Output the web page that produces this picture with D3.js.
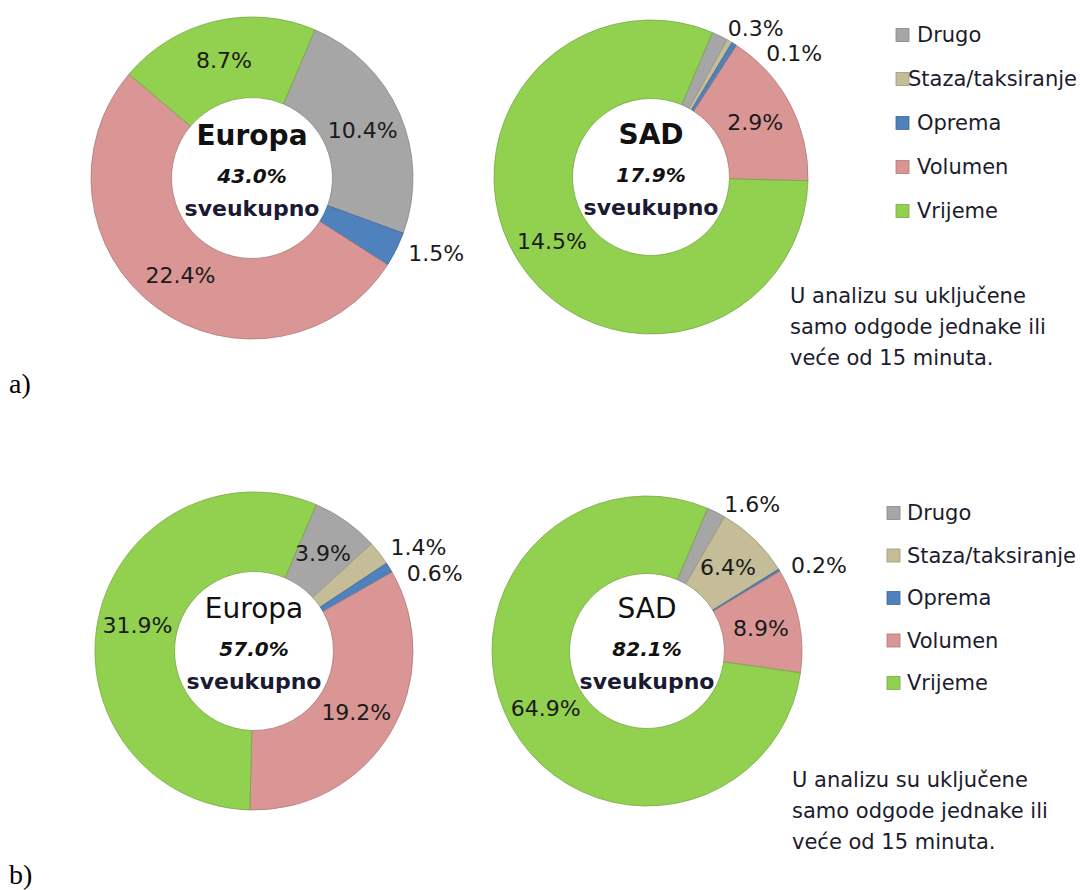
<!DOCTYPE html>
<html>
<head>
<meta charset="utf-8">
<script src="https://cdn.jsdelivr.net/npm/d3@7"></script>
<style>
  body { margin: 0; background: #fff; }
  text { font-family: "DejaVu Sans", sans-serif; }
</style>
</head>
<body>
<div id="chart"></div>
<script>
// categories and colours (same order in every donut, clockwise)
var categories = ["Drugo", "Staza/taksiranje", "Oprema", "Volumen", "Vrijeme"];
var colors = ["#a6a6a6", "#c4bd97", "#4f81bd", "#d99694", "#92d050"];

// a) values
var europaA = [10.4, 0, 1.5, 22.4, 8.7];
var sadA = [0.3, 0.1, 0.1, 2.9, 14.5];
// b) values
var europaB = [3.9, 1.4, 0.6, 19.2, 31.9];
var sadB = [1.6, 6.4, 0.2, 8.9, 64.9];

var regions = ["Europa", "SAD", "Europa", "SAD"];
var totals = ["43.0%", "17.9%", "57.0%", "82.1%"];
var hidden = [[], ["Staza/taksiranje"], [], []];   // slices drawn without a label
var totalWord = "sveukupno";
var noteLines = ["U analizu su uključene", "samo odgode jednake ili", "veće od 15 minuta."];
var partLabels = ["a)", "b)"];

function init() {
    var w = 1080;
    var h = 890;

    var svg = d3.select("#chart")
                .append("svg")
                .attr("width", w)
                .attr("height", h);

    var fmt = d3.format(".1f");
    var start = 23 * Math.PI / 180;

    var pie = d3.pie()
                .sort(null)
                .value(function(d) { return d.value; })
                .startAngle(start)
                .endAngle(start + 2 * Math.PI);

    var panels = [
        { values: europaA, cx: 252, cy: 178, r: 161, bold: true },
        { values: sadA,    cx: 651, cy: 177, r: 157, bold: true },
        { values: europaB, cx: 254, cy: 651, r: 159, bold: false },
        { values: sadB,    cx: 647, cy: 651, r: 155, bold: false }
    ];

    panels.forEach(function(p, i) {
        var data = categories.map(function(c, k) {
            return { name: c, value: p.values[k], color: colors[k] };
        });
        var sum = d3.sum(p.values);
        var arcs = pie(data);
        var rIn = p.r * 0.5;

        var arc = d3.arc().innerRadius(rIn).outerRadius(p.r);
        var mid = d3.arc().innerRadius((rIn + p.r) / 2).outerRadius((rIn + p.r) / 2);

        var g = svg.append("g")
                   .attr("transform", "translate(" + p.cx + "," + p.cy + ")");

        g.selectAll("path")
            .data(arcs.filter(function(d) { return d.data.value > 0; }))
            .enter()
            .append("path")
            .attr("d", arc)
            .style("fill", function(d) { return d.data.color; })
            .style("stroke", function(d) { return d3.color(d.data.color).darker(0.6); })
            .style("stroke-width", 0.8);

        // labels: inside the ring for big slices, outside for small ones
        var lastOut = null;
        arcs.forEach(function(d) {
            if (d.data.value <= 0 || hidden[i].indexOf(d.data.name) >= 0) return;
            var txt = fmt(d.data.value) + "%";
            var share = d.data.value / sum;
            if (share >= 0.05) {
                var c = mid.centroid(d);
                g.append("text")
                    .attr("x", c[0])
                    .attr("y", c[1])
                    .attr("dy", "0.35em")
                    .attr("text-anchor", "middle")
                    .style("font-size", "22px")
                    .style("fill", "#1a1a1a")
                    .text(txt);
            } else {
                var a = (d.startAngle + d.endAngle) / 2;
                var ro = p.r + 9;
                var x = ro * Math.sin(a), y = -ro * Math.cos(a);
                // push along the circle until it clears the previous outside label
                while (lastOut !== null && y < lastOut + 24 && a < Math.PI) {
                    a += Math.PI / 180;
                    x = ro * Math.sin(a);
                    y = -ro * Math.cos(a);
                }
                lastOut = y;
                g.append("text")
                    .attr("x", x + 4)
                    .attr("y", y)
                    .attr("dy", "0.35em")
                    .attr("text-anchor", "start")
                    .style("font-size", "22px")
                    .style("fill", "#1a1a1a")
                    .text(txt);
            }
        });

        // text in the hole
        g.append("text")
            .attr("y", -33)
            .attr("text-anchor", "middle")
            .style("font-size", "28px")
            .style("font-weight", p.bold ? "bold" : "normal")
            .style("fill", "#111")
            .text(regions[i]);
        g.append("text")
            .attr("y", 5)
            .attr("text-anchor", "middle")
            .style("font-size", "20px")
            .style("font-weight", "bold")
            .style("font-style", "italic")
            .style("fill", "#111")
            .text(totals[i]);
        g.append("text")
            .attr("y", 38)
            .attr("text-anchor", "middle")
            .style("font-size", "22px")
            .style("font-weight", "bold")
            .style("fill", "#1a1a33")
            .text(totalWord);
    });

    // legends and notes, one for a) and one for b)
    var blocks = [
        { sx: 896, tx: 917, y0: 35, step: 44, nx: 790, ny: 303 },
        { sx: 887, tx: 907, y0: 513, step: 42.5, nx: 792, ny: 787 }
    ];
    var rightEdge = 1077;

    blocks.forEach(function(b) {
        var leg = svg.append("g");
        categories.forEach(function(c, k) {
            var y = b.y0 + k * b.step;
            leg.append("rect")
                .attr("x", b.sx)
                .attr("y", y - 6.5)
                .attr("width", 13)
                .attr("height", 13)
                .style("fill", colors[k])
                .style("stroke", d3.color(colors[k]).darker(0.6))
                .style("stroke-width", 0.8);
            var t = leg.append("text")
                .attr("x", b.tx)
                .attr("y", y)
                .attr("dy", "0.35em")
                .style("font-size", "21px")
                .style("fill", "#1c1c2e")
                .text(c);
            // long entries slide left, over their square, like in the original
            var len = t.node().getComputedTextLength();
            if (b.tx + len > rightEdge) t.attr("x", rightEdge - len);
        });

        svg.append("g")
            .selectAll("text")
            .data(noteLines)
            .enter()
            .append("text")
            .attr("x", b.nx)
            .attr("y", function(d, k) { return b.ny + k * 31; })
            .style("font-size", "21px")
            .style("fill", "#1c1c2e")
            .text(function(d) { return d; });
    });

    svg.selectAll(".part")
        .data(partLabels)
        .enter()
        .append("text")
        .attr("class", "part")
        .attr("x", 9)
        .attr("y", function(d, k) { return k === 0 ? 393 : 884; })
        .style("font-family", "'Liberation Serif', serif")
        .style("font-size", "28px")
        .style("fill", "#000")
        .text(function(d) { return d; });
}

window.onload = init;
</script>
</body>
</html>
